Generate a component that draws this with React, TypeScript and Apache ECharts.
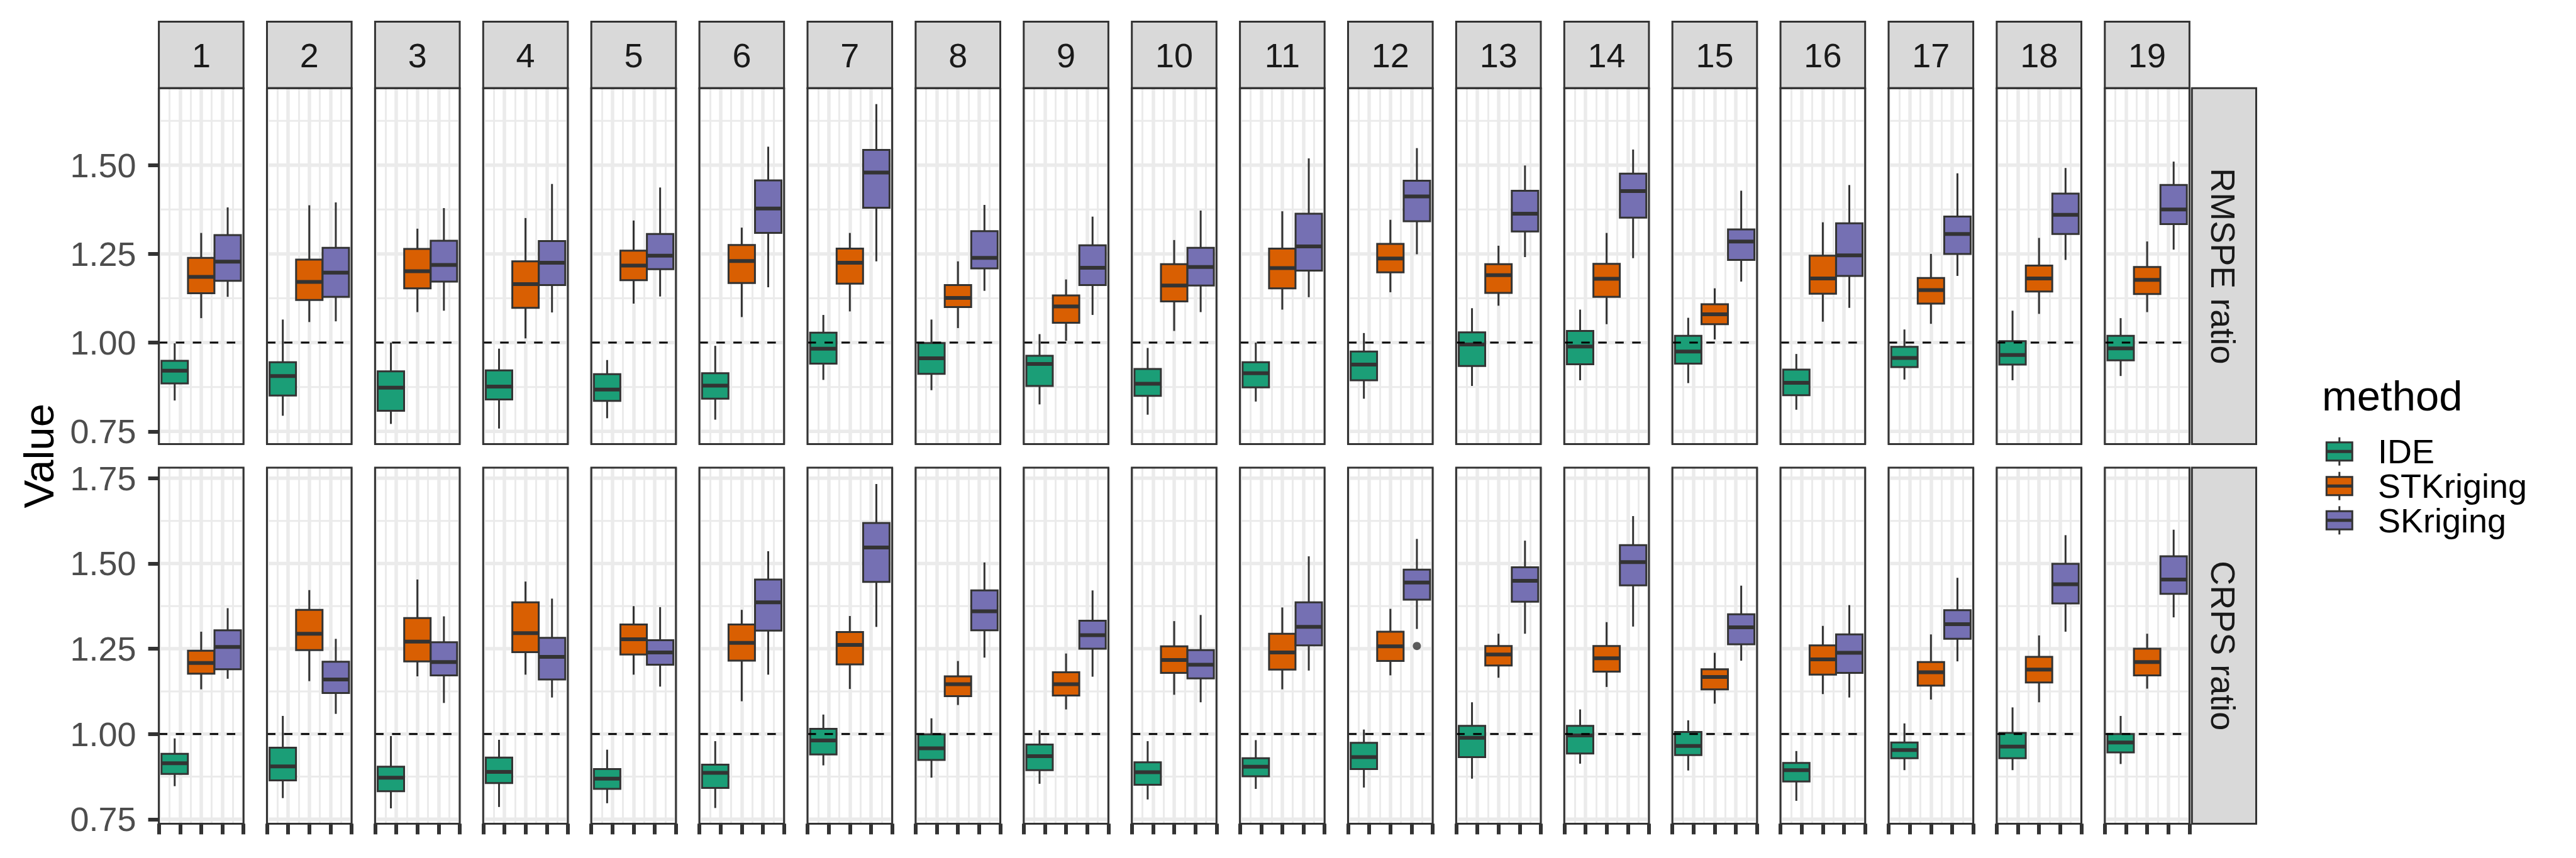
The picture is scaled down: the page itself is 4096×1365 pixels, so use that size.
import React, { useEffect, useRef } from 'react';
import * as echarts from 'echarts';

// ---------------- data ----------------
const panels = ['1', '2', '3', '4', '5', '6', '7', '8', '9', '10', '11', '12', '13', '14', '15', '16', '17', '18', '19'];
const metrics = ['RMSPE ratio', 'CRPS ratio'];
const methods = ['IDE', 'STKriging', 'SKriging'];
const methodColors = ['#1B9E77', '#D95F02', '#7570B3'];

// each entry: [lower whisker, Q1, median, Q3, upper whisker], one per panel 1..19
const rmspeIDE = [
  [0.837, 0.885, 0.921, 0.949, 0.998], [0.794, 0.851, 0.906, 0.945, 1.065], [0.771, 0.808, 0.873, 0.919, 1.000],
  [0.758, 0.840, 0.876, 0.922, 0.983], [0.787, 0.836, 0.868, 0.911, 0.951], [0.783, 0.842, 0.879, 0.914, 0.991],
  [0.895, 0.941, 0.983, 1.028, 1.078], [0.866, 0.912, 0.956, 0.999, 1.065], [0.826, 0.878, 0.940, 0.963, 1.024],
  [0.797, 0.850, 0.884, 0.926, 0.985], [0.834, 0.874, 0.914, 0.945, 1.000], [0.842, 0.894, 0.938, 0.975, 1.027],
  [0.878, 0.934, 0.995, 1.029, 1.097], [0.894, 0.939, 0.989, 1.033, 1.093], [0.886, 0.941, 0.975, 1.019, 1.070],
  [0.811, 0.852, 0.887, 0.924, 0.968], [0.896, 0.931, 0.957, 0.988, 1.037], [0.894, 0.938, 0.965, 1.004, 1.090],
  [0.906, 0.950, 0.984, 1.019, 1.069],
];
const rmspeSTK = [
  [1.069, 1.139, 1.185, 1.239, 1.309], [1.058, 1.120, 1.171, 1.234, 1.387], [1.086, 1.153, 1.201, 1.264, 1.321],
  [1.012, 1.098, 1.165, 1.229, 1.351], [1.110, 1.176, 1.217, 1.259, 1.344], [1.072, 1.168, 1.230, 1.275, 1.324],
  [1.088, 1.166, 1.225, 1.265, 1.309], [1.041, 1.100, 1.126, 1.162, 1.229], [1.005, 1.056, 1.102, 1.133, 1.178],
  [1.033, 1.116, 1.161, 1.221, 1.289], [1.093, 1.153, 1.210, 1.265, 1.370], [1.142, 1.198, 1.237, 1.278, 1.346],
  [1.104, 1.140, 1.190, 1.221, 1.273], [1.052, 1.129, 1.180, 1.222, 1.309], [1.009, 1.052, 1.080, 1.108, 1.153],
  [1.059, 1.138, 1.181, 1.245, 1.339], [1.053, 1.110, 1.148, 1.182, 1.250], [1.081, 1.144, 1.181, 1.217, 1.295],
  [1.086, 1.137, 1.177, 1.213, 1.285],
];
const rmspeSK = [
  [1.129, 1.174, 1.228, 1.303, 1.381], [1.060, 1.129, 1.197, 1.267, 1.395], [1.090, 1.172, 1.219, 1.287, 1.379],
  [1.085, 1.162, 1.225, 1.286, 1.447], [1.130, 1.207, 1.245, 1.306, 1.437], [1.156, 1.309, 1.378, 1.457, 1.552],
  [1.229, 1.380, 1.479, 1.543, 1.672], [1.146, 1.209, 1.239, 1.314, 1.388], [1.078, 1.162, 1.211, 1.274, 1.355],
  [1.086, 1.161, 1.213, 1.267, 1.372], [1.128, 1.203, 1.271, 1.363, 1.519], [1.249, 1.342, 1.412, 1.456, 1.548],
  [1.241, 1.313, 1.363, 1.428, 1.499], [1.238, 1.352, 1.427, 1.476, 1.544], [1.172, 1.233, 1.285, 1.319, 1.428],
  [1.098, 1.188, 1.246, 1.336, 1.444], [1.188, 1.250, 1.306, 1.355, 1.477], [1.233, 1.306, 1.360, 1.420, 1.492],
  [1.262, 1.334, 1.375, 1.444, 1.510],
];
const crpsIDE = [
  [0.847, 0.883, 0.914, 0.942, 0.987], [0.812, 0.864, 0.905, 0.960, 1.053], [0.782, 0.832, 0.872, 0.904, 0.994],
  [0.786, 0.856, 0.889, 0.931, 0.983], [0.797, 0.839, 0.869, 0.897, 0.954], [0.783, 0.842, 0.886, 0.910, 0.979],
  [0.908, 0.940, 0.981, 1.015, 1.057], [0.872, 0.924, 0.958, 0.999, 1.046], [0.854, 0.894, 0.935, 0.969, 1.011],
  [0.808, 0.851, 0.888, 0.917, 0.979], [0.839, 0.876, 0.904, 0.929, 0.982], [0.843, 0.897, 0.932, 0.974, 1.013],
  [0.869, 0.932, 0.989, 1.024, 1.093], [0.913, 0.943, 0.996, 1.024, 1.072], [0.893, 0.938, 0.965, 1.006, 1.040],
  [0.804, 0.861, 0.894, 0.915, 0.950], [0.894, 0.929, 0.953, 0.975, 1.031], [0.894, 0.929, 0.963, 1.003, 1.078],
  [0.912, 0.946, 0.975, 1.000, 1.053],
];
const crpsSTK = [
  [1.131, 1.177, 1.208, 1.244, 1.300], [1.155, 1.246, 1.294, 1.364, 1.422], [1.169, 1.213, 1.271, 1.340, 1.453],
  [1.174, 1.240, 1.296, 1.386, 1.447], [1.174, 1.233, 1.278, 1.321, 1.375], [1.096, 1.215, 1.267, 1.321, 1.364],
  [1.132, 1.204, 1.261, 1.299, 1.346], [1.085, 1.111, 1.146, 1.169, 1.214], [1.072, 1.113, 1.146, 1.181, 1.236],
  [1.115, 1.179, 1.217, 1.257, 1.331], [1.131, 1.189, 1.239, 1.294, 1.371], [1.172, 1.214, 1.257, 1.300, 1.367],
  [1.165, 1.201, 1.233, 1.258, 1.294], [1.138, 1.183, 1.222, 1.258, 1.328], [1.089, 1.131, 1.167, 1.190, 1.238],
  [1.117, 1.174, 1.219, 1.260, 1.317], [1.101, 1.142, 1.181, 1.211, 1.292], [1.093, 1.151, 1.189, 1.226, 1.289],
  [1.133, 1.172, 1.211, 1.250, 1.294],
];
const crpsSK = [
  [1.162, 1.190, 1.255, 1.304, 1.369], [1.059, 1.120, 1.160, 1.212, 1.279], [1.091, 1.172, 1.211, 1.269, 1.345],
  [1.107, 1.160, 1.226, 1.282, 1.397], [1.139, 1.203, 1.239, 1.275, 1.372], [1.174, 1.303, 1.386, 1.453, 1.536],
  [1.314, 1.446, 1.547, 1.619, 1.733], [1.224, 1.304, 1.360, 1.421, 1.503], [1.168, 1.250, 1.290, 1.332, 1.421],
  [1.093, 1.163, 1.203, 1.246, 1.349], [1.186, 1.260, 1.314, 1.386, 1.521], [1.308, 1.394, 1.444, 1.482, 1.572],
  [1.294, 1.388, 1.449, 1.489, 1.567], [1.315, 1.436, 1.504, 1.554, 1.639], [1.215, 1.263, 1.313, 1.351, 1.435],
  [1.107, 1.179, 1.238, 1.292, 1.378], [1.213, 1.279, 1.322, 1.363, 1.458], [1.300, 1.383, 1.439, 1.499, 1.583],
  [1.342, 1.411, 1.453, 1.521, 1.599],
];
// outliers: [metric index, panel number, method index, value]
const outliers = [[1, 12, 2, 1.258]];
const refValue = 1;

const topTicks = [0.75, 1.0, 1.25, 1.5];
const topMinorTicks = [0.875, 1.125, 1.375, 1.625];
const bottomTicks = [0.75, 1.0, 1.25, 1.5, 1.75];
const bottomMinorTicks = [0.875, 1.125, 1.375, 1.625];
const yRanges = [[0.714, 1.717], [0.737, 1.781]];

const stats = [
  [rmspeIDE, rmspeSTK, rmspeSK],
  [crpsIDE, crpsSTK, crpsSK],
];
const majorTicks = [topTicks, bottomTicks];
const minorTicks = [topMinorTicks, bottomMinorTicks];

// ---------------- layout ----------------
const W = 4096;
const H = 1365;
const PX0 = 252.6;
const PSTEP = 171.9;
const PW = 134.6;
const PH = 566.4;
const ROW_T = [140.2, 744.0];
const STRIP_T = 34.6;
const RS_X = 3485.3;
const RS_W = 102.2;
const METHOD_X = [0.187, 0.5, 0.813];
const HALF = 0.156;
const FONT = '"Liberation Sans", Arial, Helvetica, sans-serif';
const DARK = '#333333';
const GRIDC = '#EBEBEB';

function buildOption() {
  const grid: any[] = [];
  const xAxis: any[] = [];
  const yAxis: any[] = [];
  const series: any[] = [];
  const graphic: any[] = [];

  for (let r = 0; r < 2; r++) {
    for (let c = 0; c < panels.length; c++) {
      const idx = r * panels.length + c;
      const left = PX0 + c * PSTEP;
      const top = ROW_T[r];
      grid.push({ left, top, width: PW, height: PH, containLabel: false });
      xAxis.push({
        gridIndex: idx, type: 'value', min: 0, max: 1, interval: 0.25,
        axisLine: { show: false },
        axisLabel: { show: false },
        axisTick: { show: r === 1, length: 17, lineStyle: { color: DARK, width: 6 } },
        splitLine: { show: true, lineStyle: { color: GRIDC, width: 5.5 } },
        minorTick: { show: false, splitNumber: 2 },
        minorSplitLine: { show: true, lineStyle: { color: GRIDC, width: 3 } },
      });
      yAxis.push({
        gridIndex: idx, type: 'value', min: yRanges[r][0], max: yRanges[r][1],
        axisLine: { show: false },
        splitLine: { show: false },
        axisTick: { show: c === 0, customValues: majorTicks[r], length: 17, lineStyle: { color: DARK, width: 6 } },
        axisLabel: {
          show: c === 0, customValues: majorTicks[r], formatter: (v: number) => v.toFixed(2),
          fontSize: 54, color: '#4D4D4D', fontFamily: FONT, margin: 36,
        },
      });

      // horizontal grid lines
      const hData: number[][] = [];
      majorTicks[r].forEach((v) => { if (v >= yRanges[r][0] && v <= yRanges[r][1]) hData.push([0.5, v, 1]); });
      minorTicks[r].forEach((v) => { if (v >= yRanges[r][0] && v <= yRanges[r][1]) hData.push([0.5, v, 0]); });
      series.push({
        type: 'custom', xAxisIndex: idx, yAxisIndex: idx, z: 1, silent: true, clip: false,
        dimensions: ['x', 'y', 'major'], encode: { x: 0, y: 1 },
        data: hData,
        renderItem: (params: any, api: any) => {
          const cs = params.coordSys;
          const y = api.coord([0.5, api.value(1)])[1];
          return {
            type: 'line',
            shape: { x1: cs.x, y1: y, x2: cs.x + cs.width, y2: y },
            style: { stroke: GRIDC, lineWidth: api.value(2) ? 5.5 : 3 },
          };
        },
      });

      // boxes
      const bData = methods.map((_, m) => [METHOD_X[m], ...stats[r][m][c], m]);
      series.push({
        type: 'custom', name: metrics[r] + ' ' + panels[c], xAxisIndex: idx, yAxisIndex: idx, z: 2, silent: true, clip: false,
        dimensions: ['x', 'lo', 'q1', 'med', 'q3', 'hi', 'm'], encode: { x: 0, y: [1, 2, 3, 4, 5] },
        data: bData,
        renderItem: (params: any, api: any) => {
          const x = api.value(0);
          const m = api.value(6);
          const pHi = api.coord([x, api.value(5)]);
          const pQ3 = api.coord([x, api.value(4)]);
          const pMed = api.coord([x, api.value(3)]);
          const pQ1 = api.coord([x, api.value(2)]);
          const pLo = api.coord([x, api.value(1)]);
          const xl = api.coord([x - HALF, api.value(3)])[0];
          const xr = api.coord([x + HALF, api.value(3)])[0];
          return {
            type: 'group',
            children: [
              { type: 'line', shape: { x1: pHi[0], y1: pHi[1], x2: pQ3[0], y2: pQ3[1] }, style: { stroke: DARK, lineWidth: 3 } },
              { type: 'line', shape: { x1: pQ1[0], y1: pQ1[1], x2: pLo[0], y2: pLo[1] }, style: { stroke: DARK, lineWidth: 3 } },
              { type: 'rect', shape: { x: xl, y: pQ3[1], width: xr - xl, height: pQ1[1] - pQ3[1] }, style: { fill: methodColors[m], stroke: DARK, lineWidth: 3 } },
              { type: 'line', shape: { x1: xl, y1: pMed[1], x2: xr, y2: pMed[1] }, style: { stroke: DARK, lineWidth: 6 } },
            ],
          };
        },
      });

      // outliers
      const oData = outliers.filter((o) => o[0] === r && o[1] === c + 1).map((o) => [METHOD_X[o[2]], o[3]]);
      if (oData.length) {
        series.push({
          type: 'scatter', xAxisIndex: idx, yAxisIndex: idx, z: 2, silent: true,
          data: oData, symbol: 'circle', symbolSize: 13, itemStyle: { color: DARK },
        });
      }

      // reference line at 1
      series.push({
        type: 'line', xAxisIndex: idx, yAxisIndex: idx, z: 3, silent: true,
        data: [[0, refValue], [1, refValue]], symbol: 'none',
        lineStyle: { color: '#000000', width: 3, type: [13.5, 13.5] },
      });

      // panel border
      graphic.push({
        type: 'rect', z: 10, silent: true,
        shape: { x: left, y: top, width: PW, height: PH },
        style: { fill: 'none', stroke: DARK, lineWidth: 3 },
      });
    }
  }

  // top strips
  panels.forEach((p, c) => {
    const left = PX0 + c * PSTEP;
    graphic.push({
      type: 'rect', z: 9, silent: true,
      shape: { x: left, y: STRIP_T, width: PW, height: ROW_T[0] - STRIP_T },
      style: { fill: '#D9D9D9', stroke: DARK, lineWidth: 3 },
    });
    graphic.push({
      type: 'text', z: 11, silent: true, x: left + PW / 2, y: (STRIP_T + ROW_T[0]) / 2 + 1,
      style: { text: p, fontSize: 54, fontFamily: FONT, fill: '#1A1A1A', align: 'center', verticalAlign: 'middle' },
    });
  });

  // right strips
  metrics.forEach((mt, r) => {
    graphic.push({
      type: 'rect', z: 9, silent: true,
      shape: { x: RS_X, y: ROW_T[r], width: RS_W, height: PH },
      style: { fill: '#D9D9D9', stroke: DARK, lineWidth: 3 },
    });
    graphic.push({
      type: 'text', z: 11, silent: true, x: RS_X + RS_W / 2 - 1, y: ROW_T[r] + PH / 2, rotation: -Math.PI / 2,
      style: { text: mt, fontSize: 54, fontFamily: FONT, fill: '#1A1A1A', align: 'center', verticalAlign: 'middle' },
    });
  });

  // y axis title
  graphic.push({
    type: 'text', z: 11, silent: true, x: 61, y: (ROW_T[0] + ROW_T[1] + PH) / 2, rotation: Math.PI / 2,
    style: { text: 'Value', fontSize: 67, fontFamily: FONT, fill: '#000000', align: 'center', verticalAlign: 'middle' },
  });

  // legend
  graphic.push({
    type: 'text', z: 11, silent: true, x: 3692, y: 629,
    style: { text: 'method', fontSize: 67, fontFamily: FONT, fill: '#000000', align: 'left', verticalAlign: 'middle' },
  });
  const keyY = [718.2, 773.2, 827.8];
  methods.forEach((m, i) => {
    const cy = keyY[i];
    const cx = 3719.8;
    graphic.push({
      type: 'line', z: 11, silent: true,
      shape: { x1: cx, y1: cy - 22.5, x2: cx, y2: cy + 22.5 },
      style: { stroke: DARK, lineWidth: 3 },
    });
    graphic.push({
      type: 'rect', z: 12, silent: true,
      shape: { x: cx - 20.5, y: cy - 14.5, width: 41, height: 29 },
      style: { fill: methodColors[i], stroke: DARK, lineWidth: 3 },
    });
    graphic.push({
      type: 'line', z: 13, silent: true,
      shape: { x1: cx - 20.5, y1: cy, x2: cx + 20.5, y2: cy },
      style: { stroke: DARK, lineWidth: 5 },
    });
    graphic.push({
      type: 'text', z: 11, silent: true, x: 3781, y: cy,
      style: { text: m, fontSize: 54, fontFamily: FONT, fill: '#000000', align: 'left', verticalAlign: 'middle' },
    });
  });

  return {
    animation: false,
    backgroundColor: '#FFFFFF',
    textStyle: { fontFamily: FONT },
    grid, xAxis, yAxis, series, graphic,
  };
}

export default function App() {
  const ref = useRef<HTMLDivElement>(null);
  useEffect(() => {
    if (!ref.current) return;
    const chart = echarts.init(ref.current, null, { renderer: 'svg' });
    chart.setOption(buildOption() as any);
    return () => chart.dispose();
  }, []);
  return <div ref={ref} style={{ position: 'absolute', left: 0, top: 0, width: W, height: H }} />;
}
